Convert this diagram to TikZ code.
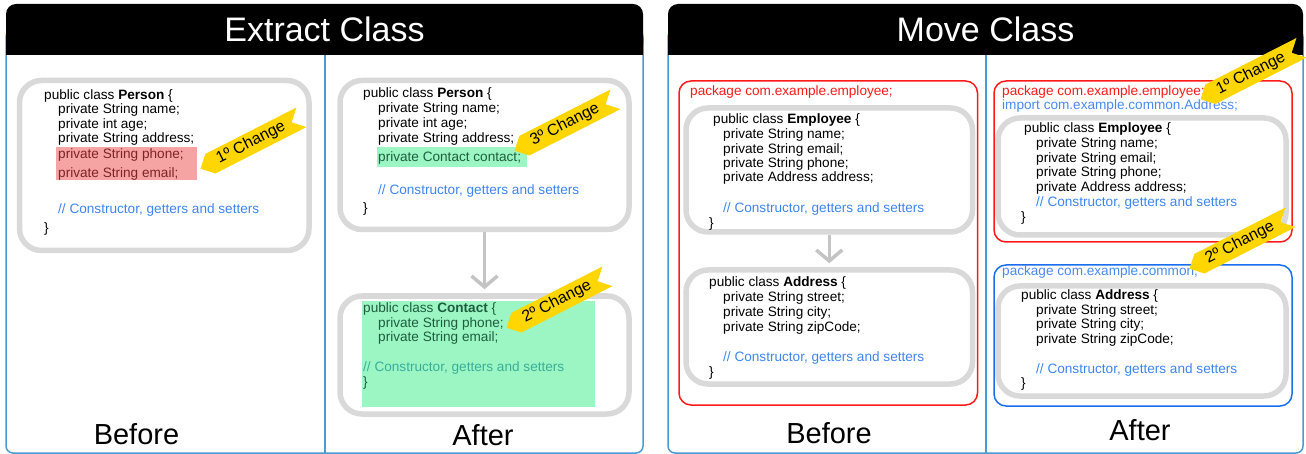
\documentclass[tikz,border=0pt]{standalone}
\usepackage{fontspec}
\setmainfont{Liberation Sans}
\usetikzlibrary{shapes.symbols,arrows.meta}

\definecolor{panelblue}{HTML}{4A9AD4}
\definecolor{boxgrey}{HTML}{D9D9D9}
\definecolor{arrowgrey}{HTML}{C4C4C4}
\definecolor{cmtblue}{HTML}{3D85F0}
\definecolor{redhl}{HTML}{F5A3A3}
\definecolor{redtext}{HTML}{7F2424}
\definecolor{greenhl}{HTML}{9BF6C3}
\definecolor{greentext}{HTML}{1E5E3E}
\definecolor{tealtext}{HTML}{3AAE9A}
\definecolor{pkgred}{HTML}{FF1A1A}
\definecolor{pkgblue}{HTML}{4A8AF0}
\definecolor{frameblue}{HTML}{1A6EF0}
\definecolor{ribbonyellow}{HTML}{FFD600}

\begin{document}
\begin{tikzpicture}[x=1pt,y=-1pt,
  code/.style={anchor=west, inner sep=0pt, text height=9.8pt, text depth=0pt,
               font=\fontsize{13.6}{14.8}\selectfont},
  cmt/.style={code, text=cmtblue},
  codebox/.style={draw=boxgrey, line width=5.5pt, rounded corners=22pt, inner sep=0pt},
  pkgframe/.style={line width=1.5pt, rounded corners=12pt},
  panel/.style={draw=panelblue, line width=1.5pt, rounded corners=7pt},
  header/.style={fill=black, text=white, rounded corners=10pt, inner sep=0pt,
                 font=\fontsize{34}{34}\selectfont},
  caption/.style={inner sep=0pt, font=\fontsize{29}{29}\selectfont},
  ribbon/.style={signal, signal to=west, signal from=east, fill=ribbonyellow,
                 inner xsep=8pt, inner ysep=2pt, minimum height=22pt, minimum width=100pt,
                 font=\fontsize{16}{16}\selectfont, rotate=27},
  flow/.style={draw=arrowgrey, line width=3.5pt,
               -{Straight Barb[length=11pt,width=26pt]}, shorten >=4pt}
]
\useasboundingbox (0,0) rectangle (1306,454);

% ---------------- panel frames and headers ----------------
\draw[panel] (6,30) rectangle (643,453);
\draw[panel] (668,30) rectangle (1303,453);
\fill[black] (6,30) rectangle (643,55);
\fill[black] (668,30) rectangle (1303,55);
\node[header, minimum width=637pt, minimum height=51pt] (hdrL) at (324.5,29.5) {Extract Class};
\node[header, minimum width=635pt, minimum height=51pt] (hdrR) at (985.5,29.5) {Move Class};
\draw[panelblue, line width=1.5pt] (325,55) -- (325,453);
\draw[panelblue, line width=1.5pt] (986,55) -- (986,453);

% ---------------- Extract Class: before ----------------
\node[codebox, minimum width=289.5pt, minimum height=170pt] (personA) at (164.25,165.5) {};
\fill[redhl] (56,147) rectangle (197,180);
\node[code] (pA1) at (44,95) {public class \textbf{Person} \{};
\node[code] (pA2) at (58,109) {private String name;};
\node[code] (pA3) at (58,124) {private int age;};
\node[code] (pA4) at (58,138) {private String address;};
\node[code, text=redtext] (pA5) at (58,154) {private String phone;};
\node[code, text=redtext] (pA6) at (58,173) {private String email;};
\node[cmt] (pA7) at (58,209) {// Constructor, getters and setters};
\node[code] (pA8) at (44,228) {\}};
\node[ribbon] (chgA1) at (251,143) {1º Change};
\node[caption] (capA) at (136.5,434) {Before};

% ---------------- Extract Class: after ----------------
\node[codebox, minimum width=289pt, minimum height=149pt] (personB) at (484.5,155) {};
\fill[greenhl] (377,147) rectangle (527,167);
\node[code] (pB1) at (363,93) {public class \textbf{Person} \{};
\node[code] (pB2) at (378,108) {private String name;};
\node[code] (pB3) at (378,123) {private int age;};
\node[code] (pB4) at (378,138) {private String address;};
\node[code, text=greentext] (pB5) at (378,157) {private Contact contact;};
\node[cmt] (pB6) at (378,190) {// Constructor, getters and setters};
\node[code] (pB7) at (363,208) {\}};
\node[ribbon] (chgA3) at (565,125) {3º Change};

\node[codebox, minimum width=289pt, minimum height=118pt] (contact) at (484.5,355) {};
\fill[greenhl] (362,301) rectangle (595,407);
\node[code, text=greentext] (c1) at (363,308) {public class \textbf{Contact} \{};
\node[code, text=greentext] (c2) at (378,323) {private String phone;};
\node[code, text=greentext] (c3) at (378,337) {private String email;};
\node[code, text=tealtext] (c4) at (363,367) {// Constructor, getters and setters};
\node[code, text=greentext] (c5) at (363,382) {\}};
\node[ribbon] (chgA2) at (557,302) {2º Change};
\draw[flow] (personB.south) -- (contact.north);
\node[caption] (capB) at (483,435) {After};

% ---------------- Move Class: before ----------------
\draw[pkgframe, draw=pkgred] (679,81) rectangle (977.5,405);
\node[code, text=pkgred] (e0) at (690,91) {package com.example.employee;};
\node[codebox, minimum width=286.5pt, minimum height=124pt] (empA) at (829.25,170) {};
\node[code] (e1) at (713,119) {public class \textbf{Employee} \{};
\node[code] (e2) at (723,134) {private String name;};
\node[code] (e3) at (723,149) {private String email;};
\node[code] (e4) at (723,163) {private String phone;};
\node[code] (e5) at (723,177) {private Address address;};
\node[cmt] (e6) at (723,208) {// Constructor, getters and setters};
\node[code] (e7) at (709,223) {\}};

\node[codebox, minimum width=286.5pt, minimum height=114pt] (addrA) at (829.25,327) {};
\node[code] (a1) at (709,282) {public class \textbf{Address} \{};
\node[code] (a2) at (723,297) {private String street;};
\node[code] (a3) at (723,312) {private String city;};
\node[code] (a4) at (723,327) {private String zipCode;};
\node[cmt] (a5) at (723,357) {// Constructor, getters and setters};
\node[code] (a6) at (709,372) {\}};
\draw[flow] (empA.south) -- (addrA.north);
\node[caption] (capC) at (829,433) {Before};

% ---------------- Move Class: after ----------------
\draw[pkgframe, draw=pkgred] (994,81) rectangle (1292,242);
\node[code, text=pkgred] (f0) at (1002,91) {package com.example.employee;};
\node[code, text=pkgblue] (f1) at (1002,105) {import com.example.common.Address;};
\node[codebox, minimum width=288pt, minimum height=117pt] (empB) at (1142,176.5) {};
\node[code] (f2) at (1024,128) {public class \textbf{Employee} \{};
\node[code] (f3) at (1036,143) {private String name;};
\node[code] (f4) at (1036,158) {private String email;};
\node[code] (f5) at (1036,172) {private String phone;};
\node[code] (f6) at (1036,187) {private Address address;};
\node[cmt] (f7) at (1036,202) {// Constructor, getters and setters};
\node[code] (f8) at (1021,217) {\}};
\node[ribbon] (chgB1) at (1251,73.5) {1º Change};

\draw[pkgframe, draw=frameblue] (994,265) rectangle (1292,406);
\node[code, text=pkgblue] (g0) at (1002,271) {package com.example.common;};
\node[codebox, minimum width=288pt, minimum height=110pt] (addrB) at (1142,341) {};
\node[code] (g1) at (1021,295) {public class \textbf{Address} \{};
\node[code] (g2) at (1036,310) {private String street;};
\node[code] (g3) at (1036,324) {private String city;};
\node[code] (g4) at (1036,339) {private String zipCode;};
\node[cmt] (g5) at (1036,369) {// Constructor, getters and setters};
\node[code] (g6) at (1021,383) {\}};
\node[ribbon] (chgB2) at (1240,243) {2º Change};
\node[caption] (capD) at (1140,430) {After};
\end{tikzpicture}
\end{document}
